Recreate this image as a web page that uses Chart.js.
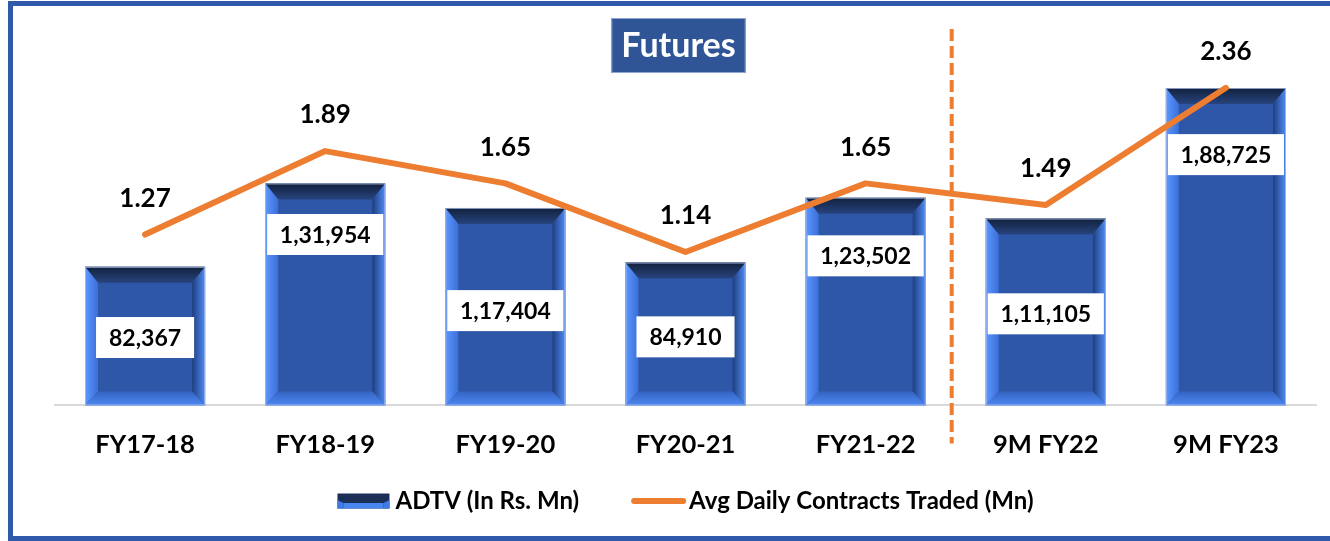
<!DOCTYPE html>
<html>
<head>
<meta charset="utf-8">
<title>Futures</title>
<script src="https://cdn.jsdelivr.net/npm/chart.js@4.4.1/dist/chart.umd.min.js"></script>
<style>
  html, body { margin: 0; padding: 0; background: #fff; overflow: hidden; }
  #frame { position: absolute; left: 8px; top: 1px; width: 1330px; height: 540px; border: 5px solid #2f5aa9; border-right: none; box-sizing: border-box; }
  #wrap { position: absolute; left: 0; top: 0; width: 1330px; height: 541px; }
</style>
</head>
<body>
<div id="frame"></div>
<div id="wrap"><canvas id="futuresChart" width="1330" height="541"></canvas></div>
<script>
const categories = ['FY17-18', 'FY18-19', 'FY19-20', 'FY20-21', 'FY21-22', '9M FY22', '9M FY23'];
const adtv = [82367, 131954, 117404, 84910, 123502, 111105, 188725];
const avgContracts = [1.27, 1.89, 1.65, 1.14, 1.65, 1.49, 2.36];

const ORANGE = '#ed7d31';
const FONT = 'Lato, "Open Sans", sans-serif';

// indian grouping: 1,31,954
function fmtIN(n) {
  const s = String(Math.round(n));
  if (s.length <= 3) return s;
  let last3 = s.slice(-3);
  let rest = s.slice(0, -3);
  rest = rest.replace(/\B(?=(\d{2})+(?!\d))/g, ',');
  return rest + ',' + last3;
}

const bevelBars = {
  id: 'bevelBars',
  afterDatasetDraw(chart, args) {
    if (args.index !== 0) return;
    const ctx = chart.ctx;
    args.meta.data.forEach(bar => {
      const p = bar.getProps(['x', 'y', 'base', 'width'], true);
      const L = p.x - p.width / 2, R = p.x + p.width / 2, T = p.y, B = p.base;
      const s = 13, t = 16, b = 14;
      ctx.save();
      let g;
      // top
      g = ctx.createLinearGradient(0, T, 0, T + t);
      g.addColorStop(0, '#12213d'); g.addColorStop(1, '#27447e');
      ctx.fillStyle = g;
      ctx.beginPath(); ctx.moveTo(L, T); ctx.lineTo(R, T); ctx.lineTo(R - s, T + t); ctx.lineTo(L + s, T + t); ctx.closePath(); ctx.fill();
      // left
      g = ctx.createLinearGradient(L, 0, L + s, 0);
      g.addColorStop(0, '#5d98ff'); g.addColorStop(1, '#3a6fd8');
      ctx.fillStyle = g;
      ctx.beginPath(); ctx.moveTo(L, T); ctx.lineTo(L + s, T + t); ctx.lineTo(L + s, B - b); ctx.lineTo(L, B); ctx.closePath(); ctx.fill();
      // right
      g = ctx.createLinearGradient(R, 0, R - s, 0);
      g.addColorStop(0, '#4f8cf6'); g.addColorStop(1, '#1f3e7e');
      ctx.fillStyle = g;
      ctx.beginPath(); ctx.moveTo(R, T); ctx.lineTo(R, B); ctx.lineTo(R - s, B - b); ctx.lineTo(R - s, T + t); ctx.closePath(); ctx.fill();
      // bottom
      g = ctx.createLinearGradient(0, B, 0, B - b);
      g.addColorStop(0, '#4d88f2'); g.addColorStop(1, '#3363c2');
      ctx.fillStyle = g;
      ctx.beginPath(); ctx.moveTo(L, B); ctx.lineTo(R, B); ctx.lineTo(R - s, B - b); ctx.lineTo(L + s, B - b); ctx.closePath(); ctx.fill();
      ctx.strokeStyle = 'rgba(170,190,230,0.8)';
      ctx.lineWidth = 1;
      ctx.strokeRect(L + 0.5, T + 0.5, p.width - 1, B - T - 1);
      ctx.restore();
    });
  }
};

const valueLabels = {
  id: 'valueLabels',
  afterDatasetsDraw(chart, args, opts) {
    const ctx = chart.ctx;
    ctx.save();
    ctx.textAlign = 'center';
    ctx.textBaseline = 'middle';
    // bar labels in white boxes
    ctx.font = 'bold 23px ' + FONT;
    chart.getDatasetMeta(0).data.forEach((bar, i) => {
      const p = bar.getProps(['x', 'y', 'base', 'width'], true);
      const txt = fmtIN(adtv[i]);
      const tw = ctx.measureText(txt).width;
      const w = Math.min(tw + 26, p.width - 4);
      const h = 41;
      const cy = p.base - opts.barLabelPos[i] * (p.base - p.y);
      ctx.fillStyle = '#fff';
      ctx.fillRect(p.x - w / 2, cy - h / 2, w, h);
      ctx.fillStyle = '#000';
      ctx.fillText(txt, p.x, cy + 1);
    });
    // line labels above points
    ctx.font = 'bold 26px ' + FONT;
    ctx.fillStyle = '#000';
    chart.getDatasetMeta(1).data.forEach((pt, i) => {
      ctx.fillText(avgContracts[i].toFixed(2), pt.x, pt.y - 36);
    });
    ctx.restore();
  }
};

const extras = {
  id: 'extras',
  afterDraw(chart) {
    const ctx = chart.ctx;
    const xs = chart.scales.x;
    const area = chart.chartArea;
    ctx.save();
    // dashed divider between FY21-22 and 9M FY22
    const dx = (xs.getPixelForValue(4) + xs.getPixelForValue(5)) / 2 - 4;
    ctx.strokeStyle = ORANGE;
    ctx.lineWidth = 4;
    ctx.setLineDash([12, 5]);
    ctx.beginPath();
    ctx.moveTo(dx, area.top - 40);
    ctx.lineTo(dx, area.bottom + 38);
    ctx.stroke();
    ctx.setLineDash([]);

    // title box
    const tcx = xs.getPixelForValue(3) - 7;
    ctx.font = 'bold 34px ' + FONT;
    const tw = ctx.measureText('Futures').width;
    const bw = tw + 20, bh = 55;
    ctx.fillStyle = '#2f5597';
    ctx.fillRect(tcx - bw / 2, 18, bw, bh);
    ctx.strokeStyle = '#8ea6d6';
    ctx.lineWidth = 1;
    ctx.strokeRect(tcx - bw / 2 + 0.5, 18.5, bw - 1, bh - 1);
    ctx.fillStyle = '#fff';
    ctx.textAlign = 'center';
    ctx.textBaseline = 'middle';
    ctx.fillText('Futures', tcx, 18 + bh / 2 + 1);

    // legend
    ctx.font = 'bold 24px ' + FONT;
    const t1 = chart.data.datasets[0].label, t2 = chart.data.datasets[1].label;
    const w1 = ctx.measureText(t1).width, w2 = ctx.measureText(t2).width;
    const iconW = 52, lineW = 55, gap1 = 6, gap2 = 3, between = 52;
    const total = iconW + gap1 + w1 + between + lineW + gap2 + w2;
    let lx = (area.left + area.right) / 2 - total / 2;
    const ly = 501;
    // bar icon
    const L = lx, R = lx + iconW, T = ly - 7.5, B = ly + 7.5;
    ctx.fillStyle = '#1b2f57';
    ctx.fillRect(L, T, iconW, 15);
    ctx.fillStyle = '#3f7ae6';
    ctx.beginPath(); ctx.moveTo(L, ly - 1); ctx.lineTo(L + 6, ly + 2); ctx.lineTo(L + 6, B); ctx.lineTo(L, B); ctx.closePath(); ctx.fill();
    ctx.beginPath(); ctx.moveTo(R, ly - 1); ctx.lineTo(R - 6, ly + 2); ctx.lineTo(R - 6, B); ctx.lineTo(R, B); ctx.closePath(); ctx.fill();
    ctx.fillStyle = '#4a86f0';
    ctx.fillRect(L + 6, ly + 2, iconW - 12, B - ly - 2);
    ctx.fillStyle = '#000';
    ctx.textAlign = 'left';
    ctx.fillText(t1, lx + iconW + gap1, ly);
    lx += iconW + gap1 + w1 + between;
    ctx.strokeStyle = ORANGE;
    ctx.lineWidth = 6;
    ctx.lineCap = 'round';
    ctx.beginPath(); ctx.moveTo(lx + 3, ly); ctx.lineTo(lx + lineW - 3, ly); ctx.stroke();
    ctx.fillText(t2, lx + lineW + gap2, ly);
    ctx.restore();
  }
};

document.fonts.load('bold 20px Lato').finally(() => {
  new Chart(document.getElementById('futuresChart'), {
    type: 'bar',
    data: {
      labels: categories,
      datasets: [
        {
          label: 'ADTV (In Rs. Mn)',
          data: adtv,
          yAxisID: 'y',
          backgroundColor: '#2f57a8',
          borderWidth: 0,
          categoryPercentage: 1,
          barPercentage: 0.667,
          order: 1
        },
        {
          type: 'line',
          label: 'Avg Daily Contracts Traded (Mn)',
          data: avgContracts,
          yAxisID: 'y2',
          borderColor: ORANGE,
          backgroundColor: ORANGE,
          borderWidth: 6,
          borderCapStyle: 'round',
          borderJoinStyle: 'round',
          pointRadius: 0,
          tension: 0,
          order: 0
        }
      ]
    },
    options: {
      responsive: false,
      animation: false,
      layout: { padding: { left: 55, right: 14, top: 69, bottom: 65 } },
      scales: {
        x: {
          grid: { display: false },
          border: { color: '#d9d9d9', width: 2 },
          ticks: { color: '#000', padding: 16, font: { family: FONT, size: 25.5, weight: 'bold' } }
        },
        y: { display: false, min: 0, max: 200000 },
        y2: { display: false, min: 0, max: 2.5 }
      },
      plugins: {
        legend: { display: false },
        tooltip: { enabled: false },
        valueLabels: { barLabelPos: [0.49, 0.77, 0.48, 0.48, 0.72, 0.49, 0.79] }
      }
    },
    plugins: [bevelBars, valueLabels, extras]
  });
});
</script>
</body>
</html>
